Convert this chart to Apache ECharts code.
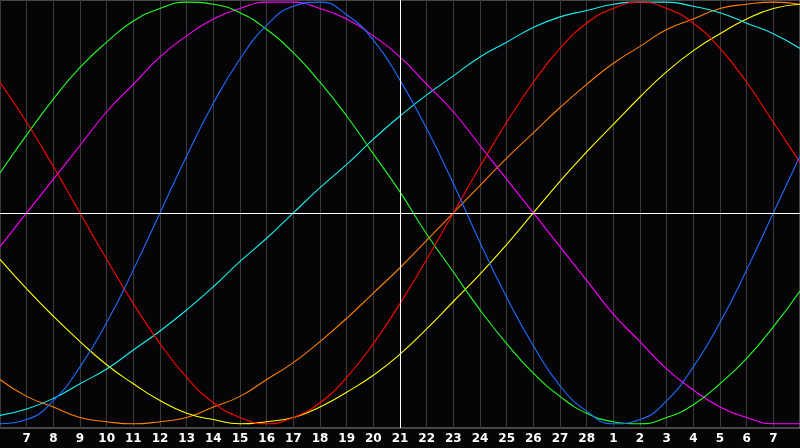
<!DOCTYPE html>
<html>
<head>
<meta charset="utf-8">
<script src="https://cdn.jsdelivr.net/npm/echarts@6/dist/echarts.min.js"></script>
<style>
  html, body { margin: 0; padding: 0; background: #050407; }
  #chart { width: 800px; height: 448px; }
</style>
</head>
<body>
<div id="chart"></div>
<script>
// day labels, one per day (first and last sit on the plot edges)
const days = ['6', '7', '8', '9', '10', '11', '12', '13', '14', '15', '16', '17', '18', '19', '20',
    '21', '22', '23', '24', '25', '26', '27', '28', '1', '2', '3', '4', '5', '6', '7', '8']
const today = '21'

// cycle values in percent
const physical = [-100, -98, -89, -73, -52, -27, 0, 27, 52, 73, 89, 98, 100, 94, 82, 63,
    40, 14, -14, -40, -63, -82, -94, -100, -98, -89, -73, -52, -27, 0, 27]
const emotional = [62, 43, 22, 0, -22, -43, -62, -78, -90, -97, -100, -97, -90, -78, -62, -43,
    -22, 0, 22, 43, 62, 78, 90, 97, 100, 97, 90, 78, 62, 43, 24]
const intellectual = [19, 37, 54, 69, 81, 91, 97, 100, 99, 95, 87, 76, 62, 46, 28, 10,
    -10, -28, -46, -62, -76, -87, -95, -99, -100, -97, -91, -81, -69, -54, -37]
const intuitive = [-16, 0, 16, 32, 48, 61, 74, 84, 92, 97, 100, 100, 97, 92, 84, 74,
    61, 48, 32, 16, 0, -16, -32, -48, -61, -74, -84, -92, -97, -100, -100]
const aesthetic = [-22, -36, -49, -61, -72, -81, -89, -95, -98, -100, -99, -97, -92, -85, -77, -67,
    -55, -42, -29, -15, 0, 15, 29, 42, 55, 67, 77, 85, 92, 97, 99]
const awareness = [-79, -87, -92, -97, -99, -100, -99, -97, -92, -87, -79, -71, -61, -50, -38, -26,
    -13, 0, 13, 26, 38, 50, 61, 71, 79, 87, 92, 97, 99, 100, 99]
const spiritual = [-96, -93, -88, -81, -74, -65, -56, -46, -35, -23, -12, 0, 12, 23, 35, 46,
    56, 65, 74, 81, 88, 93, 96, 99, 100, 100, 98, 95, 90, 85, 78]

const myChart = echarts.init(document.getElementById('chart'))

function line(name, data, color) {
    return {
        name: name,
        type: 'line',
        data: data,
        smooth: 0.5,
        symbol: 'none',
        lineStyle: { color: color, width: 1.1 },
        itemStyle: { color: color }
    }
}

const series = [
    line('awareness', awareness, '#ff7f00'),
    line('aesthetic', aesthetic, '#ffff00'),
    line('spiritual', spiritual, '#18f0f0'),
    line('intuitive', intuitive, '#ff00ff'),
    line('intellectual', intellectual, '#22ff22'),
    line('emotional', emotional, '#ff0000'),
    line('physical', physical, '#1e6cff')
]
// today + zero lines
series[0].markLine = {
    silent: true,
    symbol: 'none',
    label: { show: false },
    lineStyle: { color: '#ffffff', type: 'solid', width: 1 },
    data: [{ xAxis: today }, { yAxis: 0 }]
}

myChart.setOption({
    animation: false,
    backgroundColor: '#050407',
    grid: {
        left: 0,
        right: 0,
        top: 0,
        bottom: 20,
        show: true,
        borderColor: '#8a8a8a',
        borderWidth: 1
    },
    xAxis: {
        type: 'category',
        data: days,
        boundaryGap: false,
        axisLine: { show: true, lineStyle: { color: '#8a8a8a' } },
        axisTick: { show: false },
        axisLabel: {
            color: '#ffffff',
            fontFamily: 'DejaVu Sans',
            fontWeight: 'bold',
            fontSize: 12,
            margin: 5,
            interval: (i) => i > 0 && i < days.length - 1
        },
        splitLine: { show: true, interval: 0, lineStyle: { color: '#3a3a3a', width: 1 } }
    },
    yAxis: {
        type: 'value',
        min: -102,
        max: 101,
        axisLine: { show: false },
        axisTick: { show: false },
        axisLabel: { show: false },
        splitLine: { show: false }
    },
    series: series
})
</script>
</body>
</html>
